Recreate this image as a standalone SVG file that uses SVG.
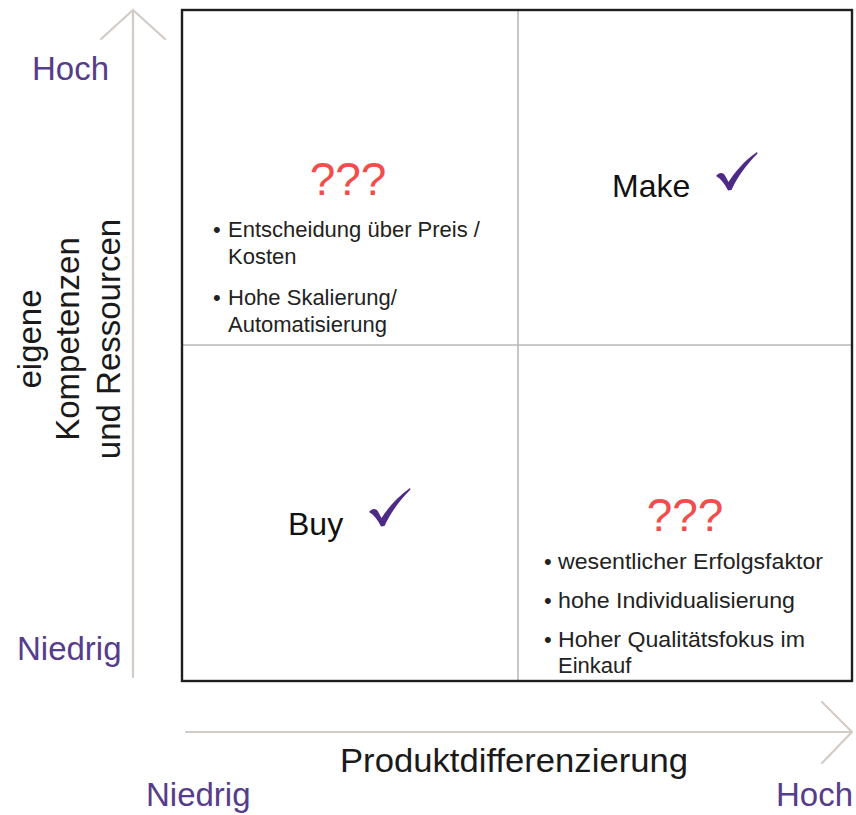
<svg xmlns="http://www.w3.org/2000/svg" xmlns:xlink="http://www.w3.org/1999/xlink" width="856" height="815" viewBox="0 0 856 815">
  <style>
    .axis { fill: none; stroke: #d3cbc5; stroke-width: 2.2; stroke-linecap: round; stroke-linejoin: round; }
    .div { stroke: #b9b9b9; stroke-width: 1.6; }
    .frame { fill: none; stroke: #1e1e1e; stroke-width: 2.4; }
    .lvl { font-family: "Liberation Sans", Arial, sans-serif; font-size: 33px; fill: #553c8c; }
    .ax { font-family: "Liberation Sans", Arial, sans-serif; font-size: 33px; fill: #1a1a1a; }
    .q { font-family: "Liberation Sans", Arial, sans-serif; font-size: 46px; fill: #f24d4d; text-anchor: middle; }
    .big { font-family: "Liberation Sans", Arial, sans-serif; font-size: 32px; fill: #111; }
    .bl { font-family: "Liberation Sans", Arial, sans-serif; font-size: 22px; fill: #222; }
    .check { fill: #4d2a86; }
  </style>
  <defs>
    <path id="chk" d="M0,2 C3,-1.5 6.5,-2 9,1.5 L12.5,8 C19,-2 28,-13 41,-22 L41.5,-20.5 C31,-10 22,2 15.5,16 L12,16.5 C9,10 5,5 0,2 Z"/>
  </defs>

  <g id="axes">
    <path class="axis" d="M133,677 L133,10 M101,39 L133,10 L165,39"/>
    <path class="axis" d="M186,732 L852,732 M822,702 L852,732 L822,763"/>
  </g>

  <g id="matrix">
    <line class="div" x1="518" y1="10" x2="518" y2="681"/>
    <line class="div" x1="182" y1="345" x2="852" y2="345"/>
    <rect class="frame" x="182" y="10" width="670" height="671"/>
  </g>

  <g id="axis-labels">
    <text class="lvl" x="32" y="80">Hoch</text>
    <text class="lvl" x="17" y="660">Niedrig</text>
    <text class="lvl" x="146" y="806">Niedrig</text>
    <text class="lvl" x="776" y="806">Hoch</text>
    <text class="ax" x="340" y="772" textLength="348" lengthAdjust="spacingAndGlyphs">Produktdifferenzierung</text>
    <g transform="translate(0,339) rotate(-90)" class="ax" text-anchor="middle">
      <text x="0" y="41">eigene</text>
      <text x="0" y="79">Kompetenzen</text>
      <text x="0" y="120">und Ressourcen</text>
    </g>
  </g>

  <g id="q-top-left">
    <text class="q" x="348" y="195">???</text>
    <text class="bl"><tspan x="213" y="237">•</tspan><tspan x="228" y="237">Entscheidung über Preis /</tspan></text>
    <text class="bl" x="228" y="264">Kosten</text>
    <text class="bl"><tspan x="213" y="305">•</tspan><tspan x="228" y="305">Hohe Skalierung/</tspan></text>
    <text class="bl" x="228" y="332">Automatisierung</text>
  </g>

  <g id="q-top-right">
    <text class="big" x="612" y="197">Make</text>
    <use xlink:href="#chk" class="check" transform="translate(716,174)"/>
  </g>

  <g id="q-bottom-left">
    <text class="big" x="288" y="535">Buy</text>
    <use xlink:href="#chk" class="check" transform="translate(369,510)"/>
  </g>

  <g id="q-bottom-right">
    <text class="q" x="685" y="531">???</text>
    <text class="bl"><tspan x="544" y="569">•</tspan><tspan x="558" y="569" textLength="265" lengthAdjust="spacingAndGlyphs">wesentlicher Erfolgsfaktor</tspan></text>
    <text class="bl"><tspan x="544" y="608">•</tspan><tspan x="558" y="608" textLength="237" lengthAdjust="spacingAndGlyphs">hohe Individualisierung</tspan></text>
    <text class="bl"><tspan x="544" y="647">•</tspan><tspan x="558" y="647" textLength="247" lengthAdjust="spacingAndGlyphs">Hoher Qualitätsfokus im</tspan></text>
    <text class="bl" x="558" y="673">Einkauf</text>
  </g>
</svg>
